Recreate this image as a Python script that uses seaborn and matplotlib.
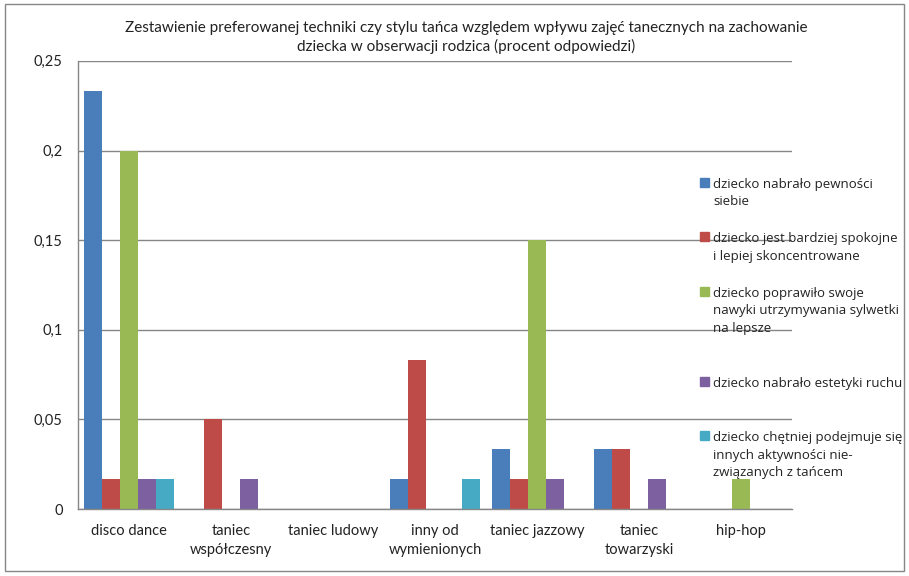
import numpy as np
import pandas as pd
import matplotlib
matplotlib.use('Agg')
import matplotlib.pyplot as plt
import seaborn as sns

categories = ['disco dance', 'taniec\nwspółczesny', 'taniec ludowy', 'inny od\nwymienionych',
              'taniec jazzowy', 'taniec\ntowarzyski', 'hip-hop']
series = ['dziecko nabrało pewności\nsiebie',
          'dziecko jest bardziej spokojne\ni lepiej skoncentrowane',
          'dziecko poprawiło swoje\nnawyki utrzymywania sylwetki\nna lepsze',
          'dziecko nabrało estetyki ruchu',
          'dziecko chętniej podejmuje się\ninnych aktywności nie-\nzwiązanych z tańcem']
pewnosc = [0.2333, 0, 0, 0.0167, 0.0333, 0.0333, 0]
spokojne = [0.0167, 0.05, 0, 0.0833, 0.0167, 0.0333, 0]
sylwetka = [0.2, 0, 0, 0, 0.15, 0, 0.0167]
estetyka = [0.0167, 0.0167, 0, 0, 0.0167, 0.0167, 0]
aktywnosc = [0.0167, 0, 0, 0.0167, 0, 0, 0]
yticks = [0, 0.05, 0.1, 0.15, 0.2, 0.25]
ytick_labels = ['0', '0,05', '0,1', '0,15', '0,2', '0,25']
colors = ['#4A7EBB', '#BE4B48', '#98B954', '#7D60A0', '#46AAC5']

rows = []
for s, vals in zip(series, [pewnosc, spokojne, sylwetka, estetyka, aktywnosc]):
    for c, v in zip(categories, vals):
        rows.append({'kategoria': c, 'seria': s, 'wartosc': v})
df = pd.DataFrame(rows)

sns.set_style('white')
plt.rcParams['font.family'] = ['Lato', 'DejaVu Sans']
plt.rcParams['text.color'] = '#222222'

fig = plt.figure(figsize=(9.09, 5.76), dpi=100)
ax = fig.add_axes([0.0858, 0.1163, 0.786, 0.778])

sns.barplot(data=df, x='kategoria', y='wartosc', hue='seria', palette=colors,
            order=categories, hue_order=series, width=0.88, ax=ax, legend=False,
            saturation=1, errorbar=None, linewidth=0)

ax.set_ylim(0, 0.25)
ax.set_xlim(-0.5, len(categories) - 0.5)
ax.set_yticks(yticks)
ax.set_yticklabels(ytick_labels, fontsize=10.5, color='#222222')
ax.set_xticks(range(len(categories)))
ax.set_xticklabels(categories, fontsize=10.5, color='#222222', linespacing=1.4)
ax.tick_params(axis='x', length=0, pad=11)
ax.tick_params(axis='y', length=5, color='#868686', direction='out', pad=6)
ax.set_xticks(np.arange(-0.5, len(categories) + 0.5, 1), minor=True)
ax.tick_params(axis='x', which='minor', length=5, color='#868686', direction='out')
ax.set_xlabel('')
ax.set_ylabel('')
ax.yaxis.grid(True, color='#868686', linewidth=1)
ax.set_axisbelow(True)
for sp in ['top', 'right']:
    ax.spines[sp].set_visible(False)
for sp in ['left', 'bottom']:
    ax.spines[sp].set_color('#868686')
    ax.spines[sp].set_linewidth(1)

fig.text(0.513, 0.935, 'Zestawienie preferowanej techniki czy stylu tańca względem wpływu zajęć tanecznych na zachowanie\n'
         'dziecka w obserwacji rodzica (procent odpowiedzi)', ha='center', va='center', fontsize=11,
         linespacing=1.3)

# Excel leaves extra room after some entries
legend_labels = [series[0], series[1], series[2] + '\n ', series[3] + '\n ', series[4]]
handles = [plt.Rectangle((0, 0), 1, 1, color=c) for c in colors]
leg = fig.legend(handles, legend_labels, loc='upper left', bbox_to_anchor=(0.757, 0.712), frameon=False,
                 prop={'family': ['Open Sans', 'DejaVu Sans'], 'size': 9.5}, handlelength=0.7,
                 handleheight=0.7, handletextpad=0.3, labelspacing=1.8, alignment='left')
for t in leg.get_texts():
    t.set_linespacing(1.47)
    t.set_color('#222222')
# put the squares beside the first line of each label
for col in leg._legend_handle_box.get_children():
    for row in col.get_children():
        row.align = 'top'

fig.add_artist(plt.Rectangle((0.005, 0.008), 0.99, 0.985, transform=fig.transFigure,
                             fill=False, edgecolor='#868686', linewidth=1))

fig.savefig('out.png', dpi=100)
